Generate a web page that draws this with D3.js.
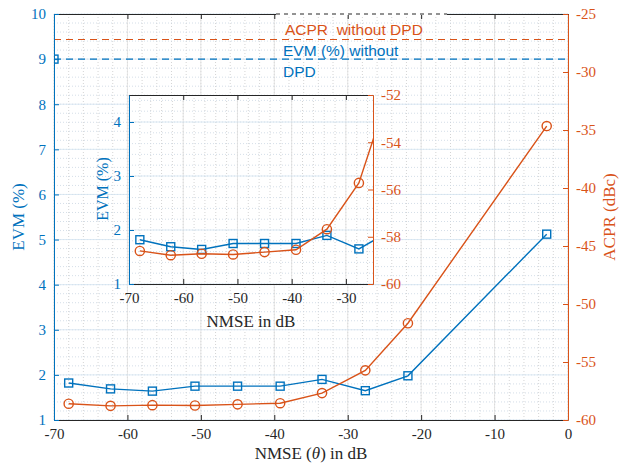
<!DOCTYPE html>
<html>
<head>
<meta charset="utf-8">
<script src="https://cdn.jsdelivr.net/npm/d3@7"></script>
<style>
  body { margin: 0; background: #fff; }
  svg text { font-family: "Liberation Serif", "Times New Roman", serif; }
</style>
</head>
<body>
<svg id="chart" width="620" height="465"></svg>
<script>
// values
var nmse = [-68, -62.3, -56.6, -50.8, -45, -39.2, -33.5, -27.6, -21.8, -2.9];
var evm = [1.82, 1.69, 1.64, 1.75, 1.75, 1.75, 1.9, 1.65, 1.98, 5.12];
var acpr = [-58.6, -58.78, -58.72, -58.75, -58.65, -58.55, -57.68, -55.72, -51.66, -34.66];
var evmNoDpd = 9;
var acprNoDpd = -27.2;

var xTicks = [-70, -60, -50, -40, -30, -20, -10, 0];
var evmTicks = [1, 2, 3, 4, 5, 6, 7, 8, 9, 10];
var acprTicks = [-60, -55, -50, -45, -40, -35, -30, -25];
var insetXTicks = [-70, -60, -50, -40, -30];
var insetEvmTicks = [1, 2, 3, 4];
var insetAcprTicks = [-60, -58, -56, -54, -52];

(function () {
  var svg = d3.select("#chart");
  var blue = "#0072BD", orange = "#D95319", dark = "#262626";
  var fmt = function(d) { return String(d); };

  // draws one yyaxis panel (used for main plot and the inset)
  function panel(o) {
    var w = o.width, h = o.height;
    var g = svg.append("g")
      .attr("transform", "translate(" + o.left + "," + o.top + ")");

    var x = d3.scaleLinear().domain(o.xDomain).range([0, w]);
    var yL = d3.scaleLinear().domain(o.lDomain).range([h, 0]);
    var yR = d3.scaleLinear().domain(o.rDomain).range([h, 0]);

    g.append("rect").attr("width", w).attr("height", h).attr("fill", "#fff");

    var grid = g.append("g");
    function vlines(vals, stroke, dash) {
      grid.selectAll(null).data(vals).enter().append("line")
        .attr("x1", function(d) { return x(d); }).attr("x2", function(d) { return x(d); })
        .attr("y1", 0).attr("y2", h)
        .attr("stroke", stroke).attr("stroke-width", 0.8)
        .attr("stroke-dasharray", dash);
    }
    function hlines(scale, vals, stroke, dash) {
      grid.selectAll(null).data(vals).enter().append("line")
        .attr("x1", 0).attr("x2", w)
        .attr("y1", function(d) { return scale(d); }).attr("y2", function(d) { return scale(d); })
        .attr("stroke", stroke).attr("stroke-width", 0.8)
        .attr("stroke-dasharray", dash);
    }
    // minor dotted grid (x and left axis only)
    vlines(d3.range(o.xDomain[0], o.xDomain[1] + 1e-9, o.xMinor), "#c9c9c9", "1,2");
    hlines(yL, d3.range(o.lDomain[0], o.lDomain[1] + 1e-9, o.lMinor), "#c9d6e2", "1,2");
    // major grid
    vlines(o.xTicks, "#dedede", null);
    hlines(yL, o.lTicks, "#d3e3f0", null);

    var clipId = "clip-" + o.name;
    g.append("clipPath").attr("id", clipId)
      .append("rect").attr("width", w).attr("height", h);
    var plot = g.append("g").attr("clip-path", "url(#" + clipId + ")");

    if (o.reference) {
      plot.append("line")
        .attr("x1", 0).attr("x2", w)
        .attr("y1", yR(acprNoDpd)).attr("y2", yR(acprNoDpd))
        .attr("stroke", orange).attr("stroke-width", 1.2)
        .attr("stroke-dasharray", "7,5");
      plot.append("line")
        .attr("x1", 0).attr("x2", w)
        .attr("y1", yL(evmNoDpd)).attr("y2", yL(evmNoDpd))
        .attr("stroke", blue).attr("stroke-width", 1.2)
        .attr("stroke-dasharray", "7,5");
      plot.append("rect")
        .attr("x", x(o.xDomain[0]) - 4).attr("y", yL(evmNoDpd) - 4)
        .attr("width", 8).attr("height", 8)
        .attr("fill", "none").attr("stroke", blue).attr("stroke-width", 1.4);
    }

    var lineEvm = d3.line()
      .x(function(d, i) { return x(nmse[i]); })
      .y(function(d) { return yL(d); });
    var lineAcpr = d3.line()
      .x(function(d, i) { return x(nmse[i]); })
      .y(function(d) { return yR(d); });

    plot.append("path").datum(evm)
      .attr("d", lineEvm).attr("fill", "none")
      .attr("stroke", blue).attr("stroke-width", 1.4);
    plot.selectAll(null).data(evm).enter().append("rect")
      .attr("x", function(d, i) { return x(nmse[i]) - 4; })
      .attr("y", function(d) { return yL(d) - 4; })
      .attr("width", 8).attr("height", 8)
      .attr("fill", "none").attr("stroke", blue).attr("stroke-width", 1.4);

    plot.append("path").datum(acpr)
      .attr("d", lineAcpr).attr("fill", "none")
      .attr("stroke", orange).attr("stroke-width", 1.4);
    plot.selectAll(null).data(acpr).enter().append("circle")
      .attr("cx", function(d, i) { return x(nmse[i]); })
      .attr("cy", function(d) { return yR(d); })
      .attr("r", 4.6)
      .attr("fill", "none").attr("stroke", orange).attr("stroke-width", 1.4);

    // axes, ticks pointing inward like MATLAB
    function styleAxis(sel, color) {
      sel.select(".domain").attr("stroke", color).attr("stroke-width", 1);
      sel.selectAll(".tick line").attr("stroke", color);
      sel.selectAll(".tick text").attr("fill", color)
        .style("font-size", o.tickFont + "px")
        .style("font-family", '"Liberation Serif", serif');
    }

    g.append("g")
      .attr("transform", "translate(0," + h + ")")
      .call(d3.axisBottom(x).tickValues(o.xTicks).tickFormat(fmt)
        .tickSizeInner(-5).tickSizeOuter(0).tickPadding(8))
      .call(styleAxis, dark);

    g.append("g")
      .call(d3.axisTop(x).tickValues(o.xTicks).tickFormat("")
        .tickSizeInner(-5).tickSizeOuter(0))
      .call(styleAxis, dark);

    g.append("g")
      .call(d3.axisLeft(yL).tickValues(o.lTicks).tickFormat(fmt)
        .tickSizeInner(-5).tickSizeOuter(0).tickPadding(8))
      .call(styleAxis, blue);

    g.append("g")
      .attr("transform", "translate(" + w + ",0)")
      .call(d3.axisRight(yR).tickValues(o.rTicks).tickFormat(fmt)
        .tickSizeInner(-5).tickSizeOuter(0).tickPadding(8))
      .call(styleAxis, orange);

    return { g: g, x: x, yL: yL, yR: yR, w: w, h: h };
  }

  var main = panel({
    name: "main", left: 54, top: 14, width: 514, height: 406,
    xDomain: [-70, 0], lDomain: [1, 10], rDomain: [-60, -25],
    xTicks: xTicks, lTicks: evmTicks, rTicks: acprTicks,
    xMinor: 2, lMinor: 0.2,
    tickFont: 15, reference: true
  });

  // dashed text-box edge over the top axis
  main.g.append("line")
    .attr("x1", 222).attr("x2", 393).attr("y1", 0).attr("y2", 0)
    .attr("stroke", "#fff").attr("stroke-width", 2);
  main.g.append("line")
    .attr("x1", 222).attr("x2", 393).attr("y1", 0).attr("y2", 0)
    .attr("stroke", dark).attr("stroke-width", 1)
    .attr("stroke-dasharray", "4,4");

  svg.append("text")
    .attr("transform", "translate(24," + (14 + 203) + ") rotate(-90)")
    .attr("text-anchor", "middle").attr("fill", blue)
    .style("font-size", "17px").text("EVM (%)");

  svg.append("text")
    .attr("transform", "translate(615," + (14 + 203) + ") rotate(-90)")
    .attr("text-anchor", "middle").attr("fill", orange)
    .style("font-size", "17px").text("ACPR (dBc)");

  var xl = svg.append("text")
    .attr("x", 311).attr("y", 459)
    .attr("text-anchor", "middle").attr("fill", dark)
    .style("font-size", "17px");
  xl.append("tspan").text("NMSE (");
  xl.append("tspan").style("font-style", "italic").text("\u03B8");
  xl.append("tspan").text(") in dB");

  // annotation text
  var note = svg.append("g")
    .style("font-size", "15.5px");
  note.append("text").attr("x", 285).attr("y", 35).attr("fill", orange)
    .style("font-family", '"Liberation Sans", Arial, sans-serif')
    .style("white-space", "pre")
    .text("ACPR  without DPD");
  note.append("text").attr("x", 283).attr("y", 56).attr("fill", blue)
    .style("font-family", '"Liberation Sans", Arial, sans-serif')
    .text("EVM (%) without");
  note.append("text").attr("x", 283).attr("y", 77).attr("fill", blue)
    .style("font-family", '"Liberation Sans", Arial, sans-serif')
    .text("DPD");

  panel({
    name: "inset", left: 129, top: 95, width: 244, height: 189,
    xDomain: [-70, -25], lDomain: [1, 4.5], rDomain: [-60, -52],
    xTicks: insetXTicks, lTicks: insetEvmTicks, rTicks: insetAcprTicks,
    xMinor: 2, lMinor: 0.2,
    tickFont: 15, reference: false
  });

  svg.append("text")
    .attr("transform", "translate(108," + (95 + 94) + ") rotate(-90)")
    .attr("text-anchor", "middle").attr("fill", blue)
    .style("font-size", "16px").text("EVM (%)");

  svg.append("text")
    .attr("x", 251).attr("y", 327)
    .attr("text-anchor", "middle").attr("fill", dark)
    .style("font-size", "17px").text("NMSE in dB");
}());
</script>
</body>
</html>
